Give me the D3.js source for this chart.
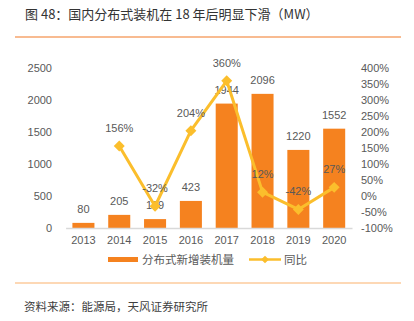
<!DOCTYPE html>
<html><head><meta charset="utf-8">
<script src="https://cdn.jsdelivr.net/npm/d3@7"></script>
<style>body{margin:0;background:#fff}svg{display:block;font-family:"Noto Sans CJK SC","Liberation Sans",sans-serif}</style>
</head><body>
<svg id="c" width="414" height="321"></svg>
<script>
const years = ["2013","2014","2015","2016","2017","2018","2019","2020"];
const installs = [80,205,139,423,1944,2096,1220,1552];
const yoy = [null,156,-32,204,360,12,-42,27];
const leftTicks = [0,500,1000,1500,2000,2500];
const rightTicks = [-100,-50,0,50,100,150,200,250,300,350,400];

const svg = d3.select("#c");
const barColor = "#F5821F", lineColor = "#FBBE2C", txt = "#595959";

svg.append("text").attr("x",25).attr("y",19).attr("font-size",13).attr("fill","#333")
  .text("图 48：国内分布式装机在 18 年后明显下滑（MW）");
svg.append("line").attr("x1",15).attr("x2",401).attr("y1",37).attr("y2",37)
  .attr("stroke","#F6A56C").attr("stroke-width",1.5);

const x = d3.scaleBand().domain(years).range([65.6,352]).paddingInner(0.385).paddingOuter(0.19);
const yL = d3.scaleLinear().domain([0,2500]).range([228,68]);
const yR = d3.scaleLinear().domain([-100,400]).range([228,68]);

// left axis
const gl = svg.append("g").attr("transform","translate(57,0)")
  .call(d3.axisLeft(yL).tickValues(leftTicks).tickSize(0).tickPadding(5).tickFormat(d=>String(d)));
gl.select(".domain").remove();
gl.selectAll("text").attr("font-size",11).attr("fill",txt).attr("font-family","Liberation Sans, sans-serif");

// right axis
const gr = svg.append("g").attr("transform","translate(356,0)")
  .call(d3.axisRight(yR).tickValues(rightTicks).tickSize(0).tickPadding(5).tickFormat(d=>d+"%"));
gr.select(".domain").remove();
gr.selectAll("text").attr("font-size",11).attr("fill",txt).attr("font-family","Liberation Sans Narrow, Liberation Sans, sans-serif");

// bars
svg.append("g").selectAll("rect").data(years).join("rect")
  .attr("x",d=>x(d)).attr("width",x.bandwidth())
  .attr("y",(d,i)=>yL(installs[i])).attr("height",(d,i)=>yL(0)-yL(installs[i]))
  .attr("fill",barColor);

// x axis
const gx = svg.append("g").attr("transform","translate(0,228)")
  .call(d3.axisBottom(x).tickSize(0).tickPadding(8));
gx.select(".domain").attr("stroke","#D9D9D9").attr("stroke-width",1.5);
gx.selectAll("text").attr("font-size",11).attr("fill",txt).attr("font-family","Liberation Sans, sans-serif");

// bar labels
svg.append("g").selectAll("text").data(years).join("text")
  .attr("x",d=>x(d)+x.bandwidth()/2).attr("y",(d,i)=>yL(installs[i])-10)
  .attr("text-anchor","middle").attr("font-size",11).attr("fill",txt)
  .attr("font-family","Liberation Sans, sans-serif")
  .text((d,i)=>installs[i]);

// line
const pts = years.map((d,i)=>({y:d,v:yoy[i]})).filter(p=>p.v!==null);
const cx = d=>x(d)+x.bandwidth()/2;
svg.append("path").datum(pts)
  .attr("d",d3.line().x(p=>cx(p.y)).y(p=>yR(p.v)))
  .attr("fill","none").attr("stroke",lineColor).attr("stroke-width",3).attr("stroke-linejoin","round");
svg.append("g").selectAll("path").data(pts).join("path")
  .attr("d",d3.symbol().type(d3.symbolSquare).size(60))
  .attr("transform",p=>`translate(${cx(p.y)},${yR(p.v)}) rotate(45)`)
  .attr("fill",lineColor);
svg.append("g").selectAll("text").data(pts).join("text")
  .attr("x",p=>cx(p.y)).attr("y",p=>yR(p.v)-14)
  .attr("text-anchor","middle").attr("font-size",11).attr("fill",txt)
  .attr("font-family","Liberation Sans Narrow, Liberation Sans, sans-serif")
  .text(p=>p.v+"%");

// legend
const lg = svg.append("g");
lg.append("rect").attr("x",108).attr("y",257).attr("width",30).attr("height",5).attr("fill",barColor);
lg.append("text").attr("x",142).attr("y",263.5).attr("font-size",11.5).attr("fill",txt).text("分布式新增装机量");
lg.append("line").attr("x1",249).attr("x2",281).attr("y1",259.5).attr("y2",259.5).attr("stroke",lineColor).attr("stroke-width",2.5);
lg.append("path").attr("d",d3.symbol().type(d3.symbolSquare).size(30)).attr("transform","translate(265,259.5) rotate(45)").attr("fill",lineColor);
lg.append("text").attr("x",284).attr("y",263.5).attr("font-size",11.5).attr("fill",txt).text("同比");

svg.append("line").attr("x1",15).attr("x2",401).attr("y1",283).attr("y2",283)
  .attr("stroke","#FDCB9C").attr("stroke-width",1.5);
svg.append("text").attr("x",24).attr("y",311).attr("font-size",11.5).attr("fill","#404040")
  .text("资料来源：能源局，天风证券研究所");
</script>
</body></html>
